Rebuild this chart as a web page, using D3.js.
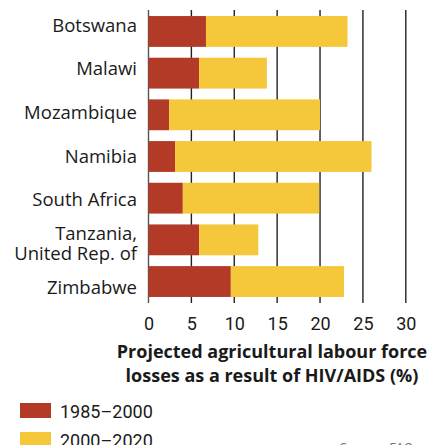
<!DOCTYPE html>
<html>
<head>
<meta charset="utf-8">
<script src="https://cdn.jsdelivr.net/npm/d3@7"></script>
<style>
  html, body { margin: 0; padding: 0; background: #fff; }
  svg { display: block; font-family: "Open Sans", Roboto, sans-serif; }
</style>
</head>
<body>
<svg id="chart" width="428" height="445"></svg>
<script>
// Countries (top to bottom); multi-line labels split on "\n"
const countries = [
  "Botswana",
  "Malawi",
  "Mozambique",
  "Namibia",
  "South Africa",
  "Tanzania,\nUnited Rep. of",
  "Zimbabwe"
];
// Projected agricultural labour force losses (%)
const loss1985to2000 = [6.7, 5.9, 2.4, 3.1, 4.0, 5.9, 9.6];
const loss2000to2020 = [16.5, 7.9, 17.6, 22.9, 15.9, 6.9, 13.2];
const xTicks = [0, 5, 10, 15, 20, 25, 30];
const seriesNames = ["1985–2000", "2000–2020"];
const seriesColors = ["#b33a27", "#f5c73b"];

const svg = d3.select("#chart");

const x = d3.scaleLinear().domain([0, 30]).range([148.5, 405.8]);
const y = d3.scaleBand().domain(countries).range([10, 303])
  .paddingInner(0.26).paddingOuter(0.145);
const labelY = d3.scalePoint().domain(countries).range([25, 287]);

// Vertical gridlines behind the bars
svg.append("g")
  .selectAll("line")
  .data(xTicks)
  .join("line")
  .attr("x1", d => x(d)).attr("x2", d => x(d))
  .attr("y1", 10).attr("y2", 303)
  .attr("stroke", d => d === 0 ? "#555" : "#222")
  .attr("stroke-width", 1.4);

// Stacked bars
const rows = countries.map((c, i) => ({
  country: c,
  a: loss1985to2000[i],
  b: loss2000to2020[i]
}));
const stack = d3.stack().keys(["a", "b"])(rows);

svg.append("g")
  .selectAll("g")
  .data(stack)
  .join("g")
  .attr("fill", (d, i) => seriesColors[i])
  .selectAll("rect")
  .data(d => d)
  .join("rect")
  .attr("x", d => x(d[0]))
  .attr("width", d => x(d[1]) - x(d[0]))
  .attr("y", d => y(d.data.country))
  .attr("height", y.bandwidth());

// Country labels
const labels = svg.append("g")
  .attr("font-size", 18.5)
  .attr("fill", "#1a1a1a")
  .attr("text-anchor", "end");
countries.forEach(c => {
  const lines = c.split("\n");
  const t = labels.append("text")
    .attr("x", 137)
    .attr("y", labelY(c));
  lines.forEach((ln, k) => {
    t.append("tspan")
      .attr("x", 137)
      .attr("dy", k === 0 ? (0.36 - (lines.length - 1) * 0.5 * 1.08) + "em" : "1.08em")
      .text(ln);
  });
});

// X axis tick labels
const xAxis = d3.axisBottom(x).tickValues(xTicks).tickSize(0).tickPadding(0);
const gx = svg.append("g")
  .attr("transform", "translate(0,330)")
  .call(xAxis);
gx.select(".domain").remove();
gx.selectAll("text")
  .attr("dy", 0)
  .attr("font-size", 18)
  .attr("font-family", "Roboto, sans-serif")
  .attr("fill", "#1a1a1a");

// Axis title
const title = svg.append("text")
  .attr("font-size", 18)
  .attr("font-weight", "bold")
  .attr("fill", "#1a1a1a")
  .attr("text-anchor", "middle");
title.append("tspan").attr("x", 272).attr("y", 358).text("Projected agricultural labour force");
title.append("tspan").attr("x", 272).attr("y", 382).text("losses as a result of HIV/AIDS (%)");

// Legend
const legend = svg.append("g");
seriesNames.forEach((name, i) => {
  const g = legend.append("g").attr("transform", `translate(20,${403 + i * 29})`);
  g.append("rect").attr("width", 31).attr("height", 15).attr("fill", seriesColors[i]);
  g.append("text").attr("x", 40).attr("y", 15)
    .attr("font-size", 18).attr("font-family", "Roboto, sans-serif")
    .attr("fill", "#1a1a1a").text(name);
});

// Source note
svg.append("text")
  .attr("x", 339).attr("y", 453)
  .attr("font-size", 14).attr("font-style", "italic")
  .attr("fill", "#777")
  .text("Source: FAO");
</script>
</body>
</html>
